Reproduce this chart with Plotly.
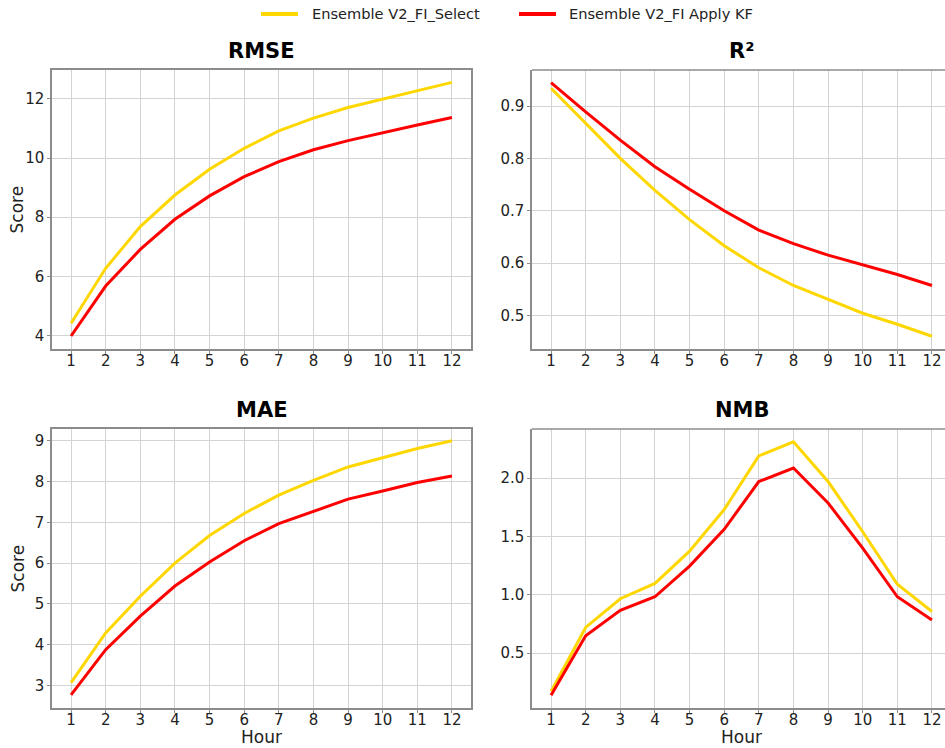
import plotly.graph_objects as go

hours = list(range(1, 13))

rmse_select = [4.41, 6.27, 7.68, 8.75, 9.62, 10.33, 10.92, 11.35, 11.71, 12.00, 12.28, 12.56]
rmse_kf = [3.98, 5.67, 6.91, 7.93, 8.72, 9.37, 9.88, 10.28, 10.59, 10.86, 11.12, 11.37]

r2_select = [0.934, 0.867, 0.800, 0.739, 0.683, 0.633, 0.591, 0.557, 0.530, 0.504, 0.483, 0.460]
r2_kf = [0.945, 0.889, 0.835, 0.784, 0.741, 0.700, 0.663, 0.637, 0.615, 0.596, 0.578, 0.557]

mae_select = [3.07, 4.29, 5.19, 6.00, 6.68, 7.22, 7.67, 8.03, 8.36, 8.59, 8.81, 9.00]
mae_kf = [2.77, 3.88, 4.70, 5.44, 6.03, 6.55, 6.97, 7.27, 7.57, 7.77, 7.98, 8.14]

nmb_select = [0.171, 0.72, 0.966, 1.097, 1.374, 1.73, 2.19, 2.31, 1.97, 1.54, 1.09, 0.857]
nmb_kf = [0.14, 0.649, 0.866, 0.983, 1.246, 1.56, 1.97, 2.086, 1.786, 1.40, 0.983, 0.783]

series_names = ["Ensemble V2_FI_Select", "Ensemble V2_FI Apply KF"]
colors = ["#FFD700", "#FF0000"]

W, H = 945, 748
FONT = "DejaVu Sans"
GRID = "#d3d3d3"
SPINE = "#8c8c8c"
TXT = "#222222"

# panel pixel boxes: (left, right, top, bottom)
panels = [
    ("RMSE", rmse_select, rmse_kf, (52, 471, 70, 349), [3.54, 12.98], [4, 6, 8, 10, 12], None, True, False),
    ("R²", r2_select, r2_kf, (532, 945, 70, 349), [0.4356, 0.969], [0.5, 0.6, 0.7, 0.8, 0.9], None, False, False),
    ("MAE", mae_select, mae_kf, (52, 471, 429, 708), [2.45, 9.29], [3, 4, 5, 6, 7, 8, 9], None, True, True),
    ("NMB", nmb_select, nmb_kf, (532, 945, 429, 708), [0.03, 2.42], [0.5, 1.0, 1.5, 2.0], ["0.5", "1.0", "1.5", "2.0"], False, True),
]

fig = go.Figure()
annotations = []
shapes = []

px_per_unit = (471 - 52) / 12.1

for i, (title, ys, yk, box, yrange, yticks, ytext, left_col, bottom_row) in enumerate(panels):
    l, r, t, b = box
    n = "" if i == 0 else str(i + 1)
    xa, ya = "x" + n, "y" + n
    xdom = [l / W, r / W]
    ydom = [1 - b / H, 1 - t / H]
    # matplotlib-style 5% x margins; right-hand panels run off the page edge
    xmax = 0.45 + (r - l) / px_per_unit
    for vals, name, c in [(ys, series_names[0], colors[0]), (yk, series_names[1], colors[1])]:
        fig.add_trace(go.Scatter(
            x=hours, y=vals, mode="lines", name=name,
            line=dict(color=c, width=3),
            xaxis=xa, yaxis=ya, showlegend=False,
        ))
    full = left_col
    fig.update_layout(**{
        "xaxis" + n: dict(
            domain=xdom, range=[0.45, xmax], anchor=ya,
            tickmode="array", tickvals=hours,
            showgrid=True, gridcolor=GRID, gridwidth=1,
            showline=True, linecolor=SPINE, linewidth=1.5, mirror=full,
            ticks="outside", ticklen=3, tickcolor=SPINE, ticklabelstandoff=-6,
            tickfont=dict(family=FONT, size=15, color=TXT),
            zeroline=False,
        ),
        "yaxis" + n: dict(
            domain=ydom, range=yrange, anchor=xa,
            tickmode="array", tickvals=yticks, ticktext=ytext,
            showgrid=True, gridcolor=GRID, gridwidth=1,
            showline=True, linecolor=SPINE, linewidth=1.5, mirror=full,
            ticks="outside", ticklen=3, tickcolor=SPINE,
            tickfont=dict(family=FONT, size=15, color=TXT),
            zeroline=False,
        ),
    })
    if not full:
        shapes.append(dict(type="line", xref="paper", yref="paper",
                           x0=xdom[0], x1=1.0, y0=ydom[1], y1=ydom[1],
                           line=dict(color=SPINE, width=1.5)))
    cx = (l + 209.5) / W
    annotations.append(dict(
        text="<b>%s</b>" % title, xref="paper", yref="paper",
        x=cx, y=1 - (t - 19) / H, xanchor="center", yanchor="middle",
        showarrow=False, font=dict(family=FONT, size=21, color="#000"),
    ))
    if left_col:
        annotations.append(dict(
            text="Score", xref="paper", yref="paper",
            x=17 / W, y=1 - ((t + b) / 2) / H, xanchor="center", yanchor="middle",
            textangle=-90, showarrow=False, font=dict(family=FONT, size=17, color=TXT),
        ))
    if bottom_row:
        annotations.append(dict(
            text="Hour", xref="paper", yref="paper",
            x=cx, y=0, xanchor="center", yanchor="bottom",
            borderpad=0,
            showarrow=False, font=dict(family=FONT, size=17, color=TXT),
        ))

# legend row across the top
legend_items = [(series_names[0], colors[0], 261, 310), (series_names[1], colors[1], 519, 567)]
for name, c, x_line, x_text in legend_items:
    shapes.append(dict(type="line", xref="paper", yref="paper",
                       x0=x_line / W, x1=(x_line + 37) / W, y0=1 - 14 / H, y1=1 - 14 / H,
                       line=dict(color=c, width=4)))
    annotations.append(dict(
        text=name, xref="paper", yref="paper",
        x=x_text / W, y=1 - 14 / H, xanchor="left", yanchor="middle",
        showarrow=False, font=dict(family=FONT, size=14.6, color=TXT),
    ))

fig.update_layout(
    width=W, height=H,
    margin=dict(l=0, r=0, t=0, b=0),
    paper_bgcolor="white", plot_bgcolor="white",
    annotations=annotations, shapes=shapes,
    showlegend=False,
    font=dict(family=FONT),
)

fig.write_html("out.html")
